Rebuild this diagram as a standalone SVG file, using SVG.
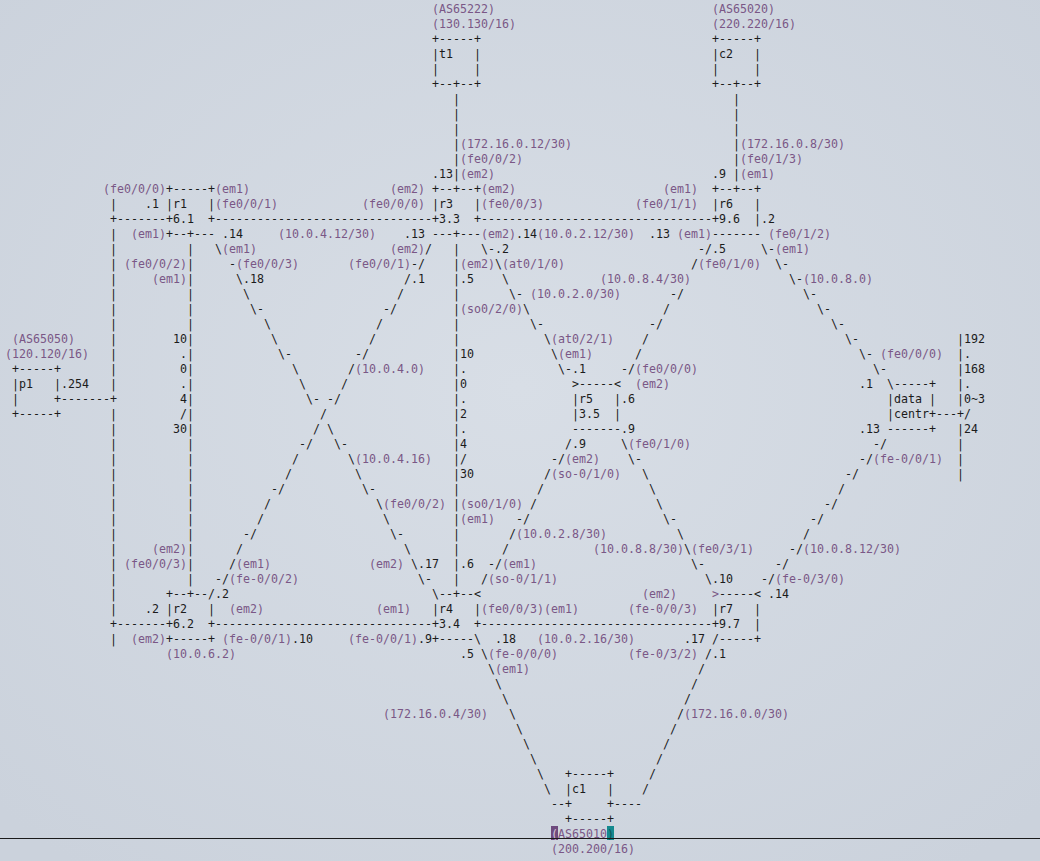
<svg xmlns="http://www.w3.org/2000/svg" width="1040" height="861" viewBox="0 0 1040 861" xml:space="preserve">
<defs>
<radialGradient id="bg" cx="50%" cy="45%" r="70%">
<stop offset="0" stop-color="#d8dee6"/>
<stop offset="1" stop-color="#cbd2dc"/>
</radialGradient>
<style>
text{font-family:"DejaVu Sans Mono","Liberation Mono",monospace;font-size:11.63px;fill:#1b1b1b;white-space:pre}
.p{fill:#7a5786}
</style>
</defs>
<rect width="1040" height="861" fill="url(#bg)"/>
<g id="t1">
<text class="p" x="432" y="12.5">(AS65222)</text>
<text class="p" x="432" y="27.5">(130.130/16)</text>
<text x="432" y="42.5">+-----+</text>
<text x="432" y="57.5">|t1   |</text>
<text x="432" y="72.5">|     |</text>
<text x="432" y="87.5">+--+--+</text>
</g>
<g id="c2">
<text class="p" x="712" y="12.5">(AS65020)</text>
<text class="p" x="712" y="27.5">(220.220/16)</text>
<text x="712" y="42.5">+-----+</text>
<text x="712" y="57.5">|c2   |</text>
<text x="712" y="72.5">|     |</text>
<text x="712" y="87.5">+--+--+</text>
</g>
<g id="r1">
<text x="166" y="192.5">+-----+</text>
<text x="166" y="207.5">|r1   |</text>
<text x="166" y="222.5">+6.1  +</text>
<text x="166" y="237.5">+--+---</text>
</g>
<g id="r3">
<text x="432" y="192.5">+--+--+</text>
<text x="432" y="207.5">|r3   |</text>
<text x="432" y="222.5">+3.3  +</text>
<text x="432" y="237.5">---+---</text>
</g>
<g id="r6">
<text x="712" y="192.5">+--+--+</text>
<text x="712" y="207.5">|r6   |</text>
<text x="712" y="222.5">+9.6  |</text>
<text x="712" y="237.5">-------</text>
</g>
<g id="p1">
<text class="p" x="12" y="342.5">(AS65050)</text>
<text class="p" x="5" y="357.5">(120.120/16)</text>
<text x="12" y="372.5">+-----+</text>
<text x="12" y="387.5">|p1   |</text>
<text x="12" y="402.5">|     +</text>
<text x="12" y="417.5">+-----+</text>
</g>
<g id="r5">
<text x="572" y="387.5">&gt;-----&lt;</text>
<text x="572" y="402.5">|r5   |</text>
<text x="572" y="417.5">|3.5  |</text>
<text x="572" y="432.5">-------</text>
</g>
<g id="datacentr">
<text x="887" y="387.5">\-----+</text>
<text x="887" y="402.5">|data |</text>
<text x="887" y="417.5">|centr+</text>
<text x="887" y="432.5">------+</text>
</g>
<g id="r2">
<text x="166" y="597.5">+--+--/</text>
<text x="166" y="612.5">|r2   |</text>
<text x="166" y="627.5">+6.2  +</text>
<text x="166" y="642.5">+-----+</text>
</g>
<g id="r4">
<text x="432" y="597.5">\--+--&lt;</text>
<text x="432" y="612.5">|r4   |</text>
<text x="432" y="627.5">+3.4  +</text>
<text x="432" y="642.5">+-----\</text>
</g>
<g id="r7">
<text x="712" y="597.5"><tspan class="p">&gt;</tspan>-----&lt;</text>
<text x="712" y="612.5">|r7   |</text>
<text x="712" y="627.5">+9.7  |</text>
<text x="712" y="642.5">/-----+</text>
</g>
<g id="c1">
<text x="565" y="777.5">+-----+</text>
<text x="565" y="792.5">|c1   |</text>
<text x="565" y="807.5">+     +</text>
<text x="565" y="822.5">+-----+</text>
<rect x="551" y="826" width="7" height="14" fill="#6e4a7e"/>
<rect x="607" y="826" width="7" height="14" fill="#14898e"/>
<text x="551" y="837.5"><tspan fill="#d4c6da">(</tspan><tspan class="p">AS65010</tspan><tspan fill="#0d5558">)</tspan></text>
<text class="p" x="551" y="852.5">(200.200/16)</text>
</g>
<g id="connectors">
<text x="453" y="102.5">|</text><text x="733" y="102.5">|</text>
<text x="453" y="117.5">|</text><text x="733" y="117.5">|</text>
<text x="453" y="132.5">|</text><text x="733" y="132.5">|</text>
<text x="453" y="147.5">|</text><text x="733" y="147.5">|</text>
<text x="453" y="162.5">|</text><text x="733" y="162.5">|</text>
<text x="432" y="177.5">.13|</text><text x="712" y="177.5">.9 |</text>
<text x="110" y="207.5">|</text><text x="145" y="207.5">.1</text>
<text x="110" y="222.5">+-------</text>
<text x="215" y="222.5">-------------------------------</text>
<text x="481" y="222.5">---------------------------------</text>
<text x="761" y="222.5">.2</text>
<text x="110" y="237.5">|</text><text x="222" y="237.5">.14</text><text x="404" y="237.5">.13</text><text x="516" y="237.5">.14</text><text x="649" y="237.5">.13</text>
<text x="110" y="252.5">|</text><text x="187" y="252.5">|</text><text x="215" y="252.5">\</text><text x="425" y="252.5">/</text><text x="453" y="252.5">|</text><text x="481" y="252.5">\-.2</text><text x="698" y="252.5">-/.5</text><text x="761" y="252.5">\-</text>
<text x="110" y="267.5">|</text><text x="187" y="267.5">|</text><text x="229" y="267.5">-</text><text x="411" y="267.5">-/</text><text x="453" y="267.5">|</text><text x="495" y="267.5">\</text><text x="691" y="267.5">/</text><text x="775" y="267.5">\-</text>
<text x="110" y="282.5">|</text><text x="187" y="282.5">|</text><text x="236" y="282.5">\.18</text><text x="404" y="282.5">/.1</text><text x="453" y="282.5">|.5</text><text x="502" y="282.5">\</text><text x="789" y="282.5">\-</text>
<text x="110" y="297.5">|</text><text x="187" y="297.5">|</text><text x="243" y="297.5">\</text><text x="397" y="297.5">/</text><text x="453" y="297.5">|</text><text x="509" y="297.5">\-</text><text x="670" y="297.5">-/</text><text x="803" y="297.5">\-</text>
<text x="110" y="312.5">|</text><text x="187" y="312.5">|</text><text x="250" y="312.5">\-</text><text x="383" y="312.5">-/</text><text x="453" y="312.5">|</text><text x="523" y="312.5">\</text><text x="663" y="312.5">/</text><text x="817" y="312.5">\-</text>
<text x="110" y="327.5">|</text><text x="187" y="327.5">|</text><text x="264" y="327.5">\</text><text x="376" y="327.5">/</text><text x="453" y="327.5">|</text><text x="530" y="327.5">\-</text><text x="649" y="327.5">-/</text><text x="831" y="327.5">\-</text>
<text x="110" y="342.5">|</text><text x="173" y="342.5">10|</text><text x="271" y="342.5">\</text><text x="369" y="342.5">/</text><text x="453" y="342.5">|</text><text x="544" y="342.5">\</text><text x="642" y="342.5">/</text><text x="845" y="342.5">\-</text><text x="957" y="342.5">|192</text>
<text x="110" y="357.5">|</text><text x="180" y="357.5">.|</text><text x="278" y="357.5">\-</text><text x="355" y="357.5">-/</text><text x="453" y="357.5">|10</text><text x="551" y="357.5">\</text><text x="635" y="357.5">/</text><text x="859" y="357.5">\-</text><text x="957" y="357.5">|.</text>
<text x="110" y="372.5">|</text><text x="180" y="372.5">0|</text><text x="292" y="372.5">\</text><text x="348" y="372.5">/</text><text x="453" y="372.5">|.</text><text x="558" y="372.5">\-.1</text><text x="621" y="372.5">-/</text><text x="873" y="372.5">\-</text><text x="957" y="372.5">|168</text>
<text x="61" y="387.5">.254</text><text x="110" y="387.5">|</text><text x="180" y="387.5">.|</text><text x="299" y="387.5">\</text><text x="341" y="387.5">/</text><text x="453" y="387.5">|0</text><text x="859" y="387.5">.1</text><text x="957" y="387.5">|.</text>
<text x="61" y="402.5">-------+</text><text x="180" y="402.5">4|</text><text x="306" y="402.5">\- -/</text><text x="453" y="402.5">|.</text><text x="621" y="402.5">.6</text><text x="957" y="402.5">|0~3</text>
<text x="110" y="417.5">|</text><text x="180" y="417.5">/|</text><text x="320" y="417.5">/</text><text x="453" y="417.5">|2</text><text x="936" y="417.5">---+/</text>
<text x="110" y="432.5">|</text><text x="173" y="432.5">30|</text><text x="313" y="432.5">/ \</text><text x="453" y="432.5">|.</text><text x="621" y="432.5">.9</text><text x="859" y="432.5">.13</text><text x="957" y="432.5">|24</text>
<text x="110" y="447.5">|</text><text x="187" y="447.5">|</text><text x="299" y="447.5">-/   \-</text><text x="453" y="447.5">|4</text><text x="565" y="447.5">/.9</text><text x="621" y="447.5">\</text><text x="873" y="447.5">-/</text><text x="957" y="447.5">|</text>
<text x="110" y="462.5">|</text><text x="187" y="462.5">|</text><text x="292" y="462.5">/</text><text x="348" y="462.5">\</text><text x="453" y="462.5">|/</text><text x="551" y="462.5">-/</text><text x="628" y="462.5">\-</text><text x="859" y="462.5">-/</text><text x="957" y="462.5">|</text>
<text x="110" y="477.5">|</text><text x="187" y="477.5">|</text><text x="285" y="477.5">/</text><text x="355" y="477.5">\</text><text x="453" y="477.5">|30</text><text x="544" y="477.5">/</text><text x="642" y="477.5">\</text><text x="845" y="477.5">-/</text><text x="957" y="477.5">|</text>
<text x="110" y="492.5">|</text><text x="187" y="492.5">|</text><text x="271" y="492.5">-/</text><text x="362" y="492.5">\-</text><text x="453" y="492.5">|</text><text x="537" y="492.5">/</text><text x="649" y="492.5">\</text><text x="838" y="492.5">/</text>
<text x="110" y="507.5">|</text><text x="187" y="507.5">|</text><text x="264" y="507.5">/</text><text x="376" y="507.5">\</text><text x="453" y="507.5">|</text><text x="530" y="507.5">/</text><text x="656" y="507.5">\</text><text x="824" y="507.5">-/</text>
<text x="110" y="522.5">|</text><text x="187" y="522.5">|</text><text x="257" y="522.5">/</text><text x="383" y="522.5">\</text><text x="453" y="522.5">|</text><text x="516" y="522.5">-/</text><text x="663" y="522.5">\-</text><text x="810" y="522.5">-/</text>
<text x="110" y="537.5">|</text><text x="187" y="537.5">|</text><text x="243" y="537.5">-/</text><text x="390" y="537.5">\-</text><text x="453" y="537.5">|</text><text x="509" y="537.5">/</text><text x="677" y="537.5">\</text><text x="803" y="537.5">/</text>
<text x="110" y="552.5">|</text><text x="187" y="552.5">|</text><text x="236" y="552.5">/</text><text x="404" y="552.5">\</text><text x="453" y="552.5">|</text><text x="502" y="552.5">/</text><text x="684" y="552.5">\</text><text x="789" y="552.5">-/</text>
<text x="110" y="567.5">|</text><text x="187" y="567.5">|</text><text x="229" y="567.5">/</text><text x="411" y="567.5">\.17</text><text x="453" y="567.5">|.6</text><text x="488" y="567.5">-/</text><text x="691" y="567.5">\-</text><text x="775" y="567.5">-/</text>
<text x="110" y="582.5">|</text><text x="187" y="582.5">|</text><text x="215" y="582.5">-/</text><text x="418" y="582.5">\-</text><text x="453" y="582.5">|</text><text x="481" y="582.5">/</text><text x="705" y="582.5">\.10</text><text x="761" y="582.5">-/</text>
<text x="110" y="597.5">|</text><text x="215" y="597.5">.2</text><text x="768" y="597.5">.14</text>
<text x="110" y="612.5">|</text><text x="145" y="612.5">.2</text>
<text x="110" y="627.5">+-------</text>
<text x="215" y="627.5">-------------------------------</text>
<text x="481" y="627.5">---------------------------------</text>
<text x="110" y="642.5">|</text><text x="292" y="642.5">.10</text><text x="418" y="642.5">.9</text><text x="495" y="642.5">.18</text><text x="684" y="642.5">.17</text>
<text x="460" y="657.5">.5</text><text x="481" y="657.5">\</text><text x="705" y="657.5">/.1</text>
<text x="488" y="672.5">\</text><text x="698" y="672.5">/</text>
<text x="495" y="687.5">\</text><text x="691" y="687.5">/</text>
<text x="502" y="702.5">\</text><text x="684" y="702.5">/</text>
<text x="509" y="717.5">\</text><text x="677" y="717.5">/</text>
<text x="516" y="732.5">\</text><text x="670" y="732.5">/</text>
<text x="523" y="747.5">\</text><text x="663" y="747.5">/</text>
<text x="530" y="762.5">\</text><text x="656" y="762.5">/</text>
<text x="537" y="777.5">\</text><text x="649" y="777.5">/</text>
<text x="544" y="792.5">\</text><text x="642" y="792.5">/</text>
<text x="551" y="807.5">--</text><text x="614" y="807.5">----</text>
</g>
<g id="labels">
<text class="p" x="460" y="147.5">(172.16.0.12/30)</text><text class="p" x="740" y="147.5">(172.16.0.8/30)</text>
<text class="p" x="460" y="162.5">(fe0/0/2)</text><text class="p" x="740" y="162.5">(fe0/1/3)</text>
<text class="p" x="460" y="177.5">(em2)</text><text class="p" x="740" y="177.5">(em1)</text>
<text class="p" x="103" y="192.5">(fe0/0/0)</text><text class="p" x="215" y="192.5">(em1)</text><text class="p" x="390" y="192.5">(em2)</text><text class="p" x="481" y="192.5">(em2)</text><text class="p" x="663" y="192.5">(em1)</text>
<text class="p" x="215" y="207.5">(fe0/0/1)</text><text class="p" x="362" y="207.5">(fe0/0/0)</text><text class="p" x="481" y="207.5">(fe0/0/3)</text><text class="p" x="635" y="207.5">(fe0/1/1)</text>
<text class="p" x="131" y="237.5">(em1)</text><text class="p" x="278" y="237.5">(10.0.4.12/30)</text><text class="p" x="481" y="237.5">(em2)</text><text class="p" x="537" y="237.5">(10.0.2.12/30)</text><text class="p" x="677" y="237.5">(em1)</text><text class="p" x="768" y="237.5">(fe0/1/2)</text>
<text class="p" x="222" y="252.5">(em1)</text><text class="p" x="390" y="252.5">(em2)</text><text class="p" x="775" y="252.5">(em1)</text>
<text class="p" x="124" y="267.5">(fe0/0/2)</text><text class="p" x="236" y="267.5">(fe0/0/3)</text><text class="p" x="348" y="267.5">(fe0/0/1)</text><text class="p" x="460" y="267.5">(em2)</text><text class="p" x="502" y="267.5">(at0/1/0)</text><text class="p" x="698" y="267.5">(fe0/1/0)</text>
<text class="p" x="152" y="282.5">(em1)</text><text class="p" x="600" y="282.5">(10.0.8.4/30)</text><text class="p" x="803" y="282.5">(10.0.8.0)</text>
<text class="p" x="530" y="297.5">(10.0.2.0/30)</text>
<text class="p" x="460" y="312.5">(so0/2/0)</text>
<text class="p" x="551" y="342.5">(at0/2/1)</text>
<text class="p" x="558" y="357.5">(em1)</text><text class="p" x="880" y="357.5">(fe0/0/0)</text>
<text class="p" x="355" y="372.5">(10.0.4.0)</text><text class="p" x="635" y="372.5">(fe0/0/0)</text>
<text class="p" x="635" y="387.5">(em2)</text>
<text class="p" x="628" y="447.5">(fe0/1/0)</text>
<text class="p" x="355" y="462.5">(10.0.4.16)</text><text class="p" x="565" y="462.5">(em2)</text><text class="p" x="873" y="462.5">(fe-0/0/1)</text>
<text class="p" x="551" y="477.5">(so-0/1/0)</text>
<text class="p" x="383" y="507.5">(fe0/0/2)</text><text class="p" x="460" y="507.5">(so0/1/0)</text>
<text class="p" x="460" y="522.5">(em1)</text>
<text class="p" x="516" y="537.5">(10.0.2.8/30)</text>
<text class="p" x="152" y="552.5">(em2)</text><text class="p" x="593" y="552.5">(10.0.8.8/30)</text><text class="p" x="691" y="552.5">(fe0/3/1)</text><text class="p" x="803" y="552.5">(10.0.8.12/30)</text>
<text class="p" x="124" y="567.5">(fe0/0/3)</text><text class="p" x="236" y="567.5">(em1)</text><text class="p" x="369" y="567.5">(em2)</text><text class="p" x="502" y="567.5">(em1)</text>
<text class="p" x="229" y="582.5">(fe-0/0/2)</text><text class="p" x="488" y="582.5">(so-0/1/1)</text><text class="p" x="775" y="582.5">(fe-0/3/0)</text>
<text class="p" x="642" y="597.5">(em2)</text>
<text class="p" x="229" y="612.5">(em2)</text><text class="p" x="376" y="612.5">(em1)</text><text class="p" x="481" y="612.5">(fe0/0/3)</text><text class="p" x="544" y="612.5">(em1)</text><text class="p" x="628" y="612.5">(fe-0/0/3)</text>
<text class="p" x="131" y="642.5">(em2)</text><text class="p" x="222" y="642.5">(fe-0/0/1)</text><text class="p" x="348" y="642.5">(fe-0/0/1)</text><text class="p" x="537" y="642.5">(10.0.2.16/30)</text>
<text class="p" x="166" y="657.5">(10.0.6.2)</text><text class="p" x="488" y="657.5">(fe-0/0/0)</text><text class="p" x="628" y="657.5">(fe-0/3/2)</text>
<text class="p" x="495" y="672.5">(em1)</text>
<text class="p" x="383" y="717.5">(172.16.0.4/30)</text><text class="p" x="684" y="717.5">(172.16.0.0/30)</text>
</g>
<line x1="0" y1="838.5" x2="1040" y2="838.5" stroke="#1b1b1b" stroke-width="1"/>
</svg>
